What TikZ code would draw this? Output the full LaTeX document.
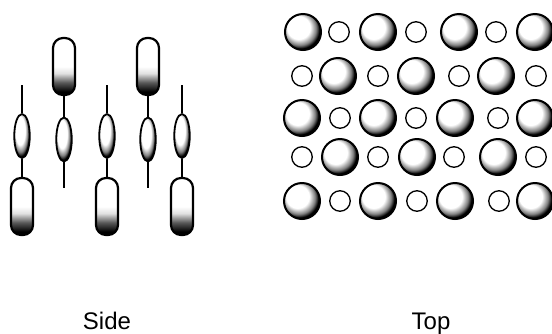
\documentclass[tikz,border=0pt]{standalone}
\usepackage{fontspec}
\setmainfont{Liberation Sans}
\usepackage{tikz}
\usetikzlibrary{shapes.geometric,positioning}
% shadings for the molecules
\pgfdeclareradialshading{pearl}{\pgfpoint{-9bp}{9bp}}{color(0bp)=(white);
  color(16bp)=(white); color(23bp)=(black!50); color(27bp)=(black); color(50bp)=(black)}
\pgfdeclareverticalshading{pillshade}{100bp}{color(0bp)=(black);
  color(28bp)=(black); color(36bp)=(black!65); color(44bp)=(black!12);
  color(50bp)=(white); color(100bp)=(white)}
\tikzstyle{pill} = [draw, rounded corners=10pt, line width=2.2pt, minimum width=22pt,
  minimum height=57pt, inner sep=0pt, shading=pillshade]
\tikzstyle{bead} = [ellipse, draw, line width=1.8pt, minimum width=15.5pt,
  minimum height=44pt, inner sep=0pt, shading=pearl]
\tikzstyle{sphere} = [circle, draw, line width=2pt, minimum size=36pt, inner sep=0pt, shading=pearl]
\tikzstyle{hole} = [circle, draw, line width=1.3pt, minimum size=20.5pt, inner sep=0pt]
\tikzstyle{stalk} = [draw, line width=1.2pt]
\tikzstyle{caption} = [anchor=base, font=\fontsize{24}{28}\selectfont]
\newcommand{\pill}[1]{node (c#1)[pill]{}}
\newcommand{\bead}[1]{node (e#1)[bead]{}}
\newcommand{\ball}[1]{node (b#1)[sphere]{}}
\newcommand{\ring}[1]{node (r#1)[hole]{}}

\begin{document}
\begin{tikzpicture}[x=1pt,y=-1pt]
	\useasboundingbox (0,0) rectangle (552,333);

	% Side view: low chains
	\coordinate (t1) at (22,85);
	\path (22,136) \bead{1};
	\path (22,206.5) \pill{1};
	\coordinate (t3) at (107,85);
	\path (107,136) \bead{3};
	\path (107,206.5) \pill{3};
	\coordinate (t5) at (182,85);
	\path (182,136) \bead{5};
	\path (182,206.5) \pill{5};

	% Side view: high chains
	\path (64,66.5) \pill{2};
	\path (64,139.5) \bead{2};
	\coordinate (t2) at (64,188);
	\path (148,66.5) \pill{4};
	\path (148,139.5) \bead{4};
	\coordinate (t4) at (148,188);

	% Draw the stalks
	\path [stalk] (t1) -- (e1);
	\path [stalk] (e1) -- (c1);
	\path [stalk] (t3) -- (e3);
	\path [stalk] (e3) -- (c3);
	\path [stalk] (t5) -- (e5);
	\path [stalk] (e5) -- (c5);
	\path [stalk] (c2) -- (e2);
	\path [stalk] (e2) -- (t2);
	\path [stalk] (c4) -- (e4);
	\path [stalk] (e4) -- (t4);

	% Top view, row by row
	\path (303,32) \ball{11} (339,32) \ring{12} (378,32) \ball{13} (416,32) \ring{14}
	      (459,32) \ball{15} (496,32) \ring{16} (535,32) \ball{17};
	\path (302,76) \ring{21} (338,76) \ball{22} (378,76) \ring{23} (416,76) \ball{24}
	      (459,76) \ring{25} (496,76) \ball{26} (536,76) \ring{27};
	\path (302,118) \ball{31} (340,118) \ring{32} (378,118) \ball{33} (416,118) \ring{34}
	      (455,118) \ball{35} (498,118) \ring{36} (535,118) \ball{37};
	\path (302,157) \ring{41} (340,157) \ball{42} (378,157) \ring{43} (417,157) \ball{44}
	      (454,157) \ring{45} (498,157) \ball{46} (536,157) \ring{47};
	\path (302,201) \ball{51} (340,201) \ring{52} (378,201) \ball{53} (417,201) \ring{54}
	      (455,201) \ball{55} (499,201) \ring{56} (535,201) \ball{57};

	% Captions
	\node (side) [caption] at (107,329) {Side};
	\node (top) [caption] at (431,329) {Top};

\end{tikzpicture}
\end{document}
